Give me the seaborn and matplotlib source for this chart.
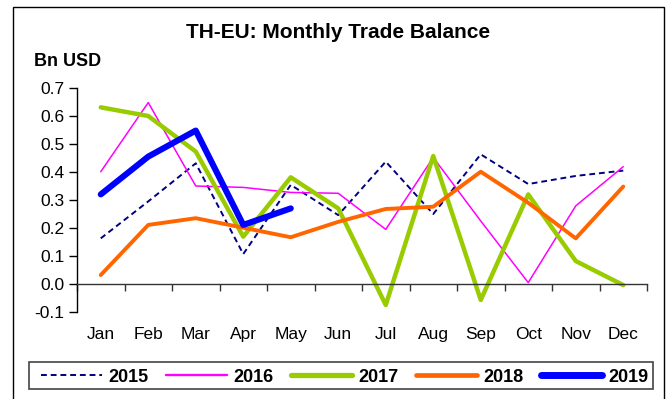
import numpy as np
import pandas as pd
import matplotlib
matplotlib.use("Agg")
import matplotlib.pyplot as plt
from matplotlib.patches import Rectangle
from matplotlib.lines import Line2D
import seaborn as sns

months = ["Jan", "Feb", "Mar", "Apr", "May", "Jun",
          "Jul", "Aug", "Sep", "Oct", "Nov", "Dec"]

y2015 = [0.163, 0.295, 0.431, 0.107, 0.354, 0.246, 0.437, 0.250, 0.463, 0.357, 0.386, 0.405]
y2016 = [0.401, 0.648, 0.350, 0.345, 0.327, 0.324, 0.195, 0.452, 0.225, 0.005, 0.279, 0.419]
y2017 = [0.631, 0.600, 0.473, 0.169, 0.381, 0.270, -0.075, 0.457, -0.057, 0.320, 0.082, -0.004]
y2018 = [0.032, 0.211, 0.235, 0.201, 0.167, 0.222, 0.268, 0.276, 0.401, 0.290, 0.163, 0.348]
y2019 = [0.320, 0.455, 0.548, 0.211, 0.270]

years = ["2015", "2016", "2017", "2018", "2019"]
series = [y2015, y2016, y2017, y2018, y2019]

rows = []
for yr, vals in zip(years, series):
    for i, v in enumerate(vals):
        rows.append({"month": i, "value": v, "year": yr})
df = pd.DataFrame(rows)

palette = {"2015": "#000080", "2016": "#FF00FF", "2017": "#99CC00",
           "2018": "#FF6600", "2019": "#0000FF"}
widths = {"2015": 1.4, "2016": 1.1, "2017": 3.2, "2018": 2.8, "2019": 4.4}

sns.set_style("white")
plt.rcParams["font.family"] = ["Liberation Sans", "DejaVu Sans"]
plt.rcParams["text.color"] = "black"
plt.rcParams["xtick.color"] = "black"
plt.rcParams["ytick.color"] = "black"

W, H = 669, 399
fig = plt.figure(figsize=(W / 100, H / 100), dpi=100)
ax = fig.add_axes([77 / W, 1 - 312 / H, (647 - 77) / W, (312 - 88) / H])

for yr in years:
    sns.lineplot(data=df[df["year"] == yr], x="month", y="value",
                 color=palette[yr], linewidth=widths[yr], ax=ax,
                 legend=False, solid_capstyle="round", dashes=False)
    if yr == "2015":
        ax.lines[-1].set_dashes((3, 2))
        ax.lines[-1].set_dash_capstyle("butt")

ax.set_xlim(-0.5, 11.5)
ax.set_ylim(-0.1, 0.7)
ax.set_xlabel("")
ax.set_ylabel("")

# value axis
yt = np.arange(-0.1, 0.71, 0.1)
ax.set_yticks(yt)
ax.set_yticklabels([f"{v:.1f}" for v in yt])
for s in ["top", "right"]:
    ax.spines[s].set_visible(False)
ax.spines["left"].set_color("black")
ax.spines["left"].set_linewidth(1.0)

# category axis sits on the zero line, labels below the plot
ax.spines["bottom"].set_position(("data", 0))
ax.spines["bottom"].set_color("#333333")
ax.spines["bottom"].set_linewidth(1.0)
ax.set_xticks(range(12))
ax.set_xticklabels(months)
ax.set_xticks(np.arange(-0.5, 12, 1), minor=True)
ax.tick_params(axis="x", which="major", length=0, pad=31, labelsize=12.5)
ax.tick_params(axis="x", which="minor", length=5, width=1, direction="out",
               color="#333333", bottom=True)
ax.tick_params(axis="y", which="major", length=6, width=1, direction="out",
               color="black", left=True, labelsize=12.5, pad=3)

fig.text(338 / W, 1 - 33 / H, "TH-EU: Monthly Trade Balance",
         ha="center", va="center", fontsize=15, fontweight="bold")
fig.text(34 / W, 1 - 61.5 / H, "Bn USD", ha="left", va="center",
         fontsize=13, fontweight="bold")

# chart frame
fig.patches.append(Rectangle((13 / W, -0.02), (664 - 13) / W, (1 - 7 / H) + 0.02,
                             transform=fig.transFigure, fill=False,
                             edgecolor="black", linewidth=1.0))

# legend box
fig.patches.append(Rectangle((29 / W, 1 - 389 / H), (653 - 29) / W, 27 / H,
                             transform=fig.transFigure, fill=False,
                             edgecolor="#444444", linewidth=1.2))

handles = [Line2D([], [], color=palette[yr],
                  linewidth=widths[yr] + (0.6 if yr != "2015" else 0),
                  linestyle=(0, (3, 2)) if yr == "2015" else "-",
                  solid_capstyle="round") for yr in years]
leg = fig.legend(handles, years, loc="center",
                 bbox_to_anchor=(344.5 / W, 1 - 377 / H),
                 ncol=5, frameon=False,
                 handlelength=3.4, handletextpad=0.35, columnspacing=0.95,
                 borderaxespad=0, borderpad=0,
                 prop={"weight": "bold", "size": 13})

fig.savefig("out.png", dpi=100, facecolor="white")
